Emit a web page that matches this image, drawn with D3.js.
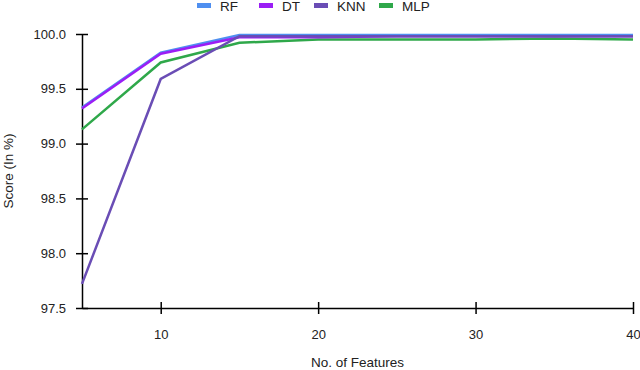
<!DOCTYPE html>
<html>
<head>
<meta charset="utf-8">
<script src="https://cdn.jsdelivr.net/npm/d3@7"></script>
<style>
  body { margin: 0; background: #fff; }
  text { font-family: "Liberation Sans", Arial, sans-serif; }
</style>
</head>
<body>
<div id="chart"></div>
<script>
// chart data
var features = [5, 10, 15, 20, 25, 30, 35, 40];
var rf  = [99.33, 99.83, 99.99, 99.99, 99.99, 99.99, 99.99, 99.99];
var dt  = [99.32, 99.82, 99.97, 99.97, 99.98, 99.98, 99.98, 99.98];
var knn = [97.72, 99.59, 99.98, 99.98, 99.98, 99.98, 99.98, 99.98];
var mlp = [99.13, 99.74, 99.92, 99.95, 99.95, 99.95, 99.96, 99.95];
var seriesNames = ["RF", "DT", "KNN", "MLP"];
var xTicks = [10, 20, 30, 40];
var yTicks = [97.5, 98.0, 98.5, 99.0, 99.5, 100.0];

var colors = d3.scaleOrdinal()
  .domain(seriesNames)
  .range(["#4f8ff0", "#9b1ef5", "#6a4db5", "#2fa84a"]);

var margin = {top: 34, right: 7, bottom: 62, left: 82},
    width = 640 - margin.left - margin.right,
    height = 370 - margin.top - margin.bottom;

var svg = d3.select("#chart").append("svg")
    .attr("width", 640)
    .attr("height", 370);

var g = svg.append("g")
    .attr("transform", "translate(" + margin.left + "," + margin.top + ")");

var x = d3.scaleLinear().domain([5, 40]).range([0, width]);
var y = d3.scaleLinear().domain([97.5, 100]).range([height, 0]);

// axes (ticks cross the axis line)
var xAxis = g.append("g")
    .attr("transform", "translate(0," + height + ")")
    .call(d3.axisBottom(x).tickValues(xTicks).tickSize(6).tickSizeOuter(0).tickPadding(16));
xAxis.selectAll(".tick line").attr("y1", -6);

var yAxis = g.append("g")
    .call(d3.axisLeft(y).tickValues(yTicks).tickFormat(d3.format(".1f")).tickSize(6).tickSizeOuter(0).tickPadding(10));
yAxis.selectAll(".tick line").attr("x1", 6);

g.selectAll(".domain, .tick line").attr("stroke", "#000").attr("stroke-width", 1.5);
g.selectAll(".tick text").attr("font-size", 13).attr("fill", "#222")
  .attr("font-family", "'Liberation Sans', Arial, sans-serif");

// lines
var allSeries = [rf, dt, knn, mlp];
var line = d3.line()
    .x(function(d, i) { return x(features[i]); })
    .y(function(d) { return y(d); });

// draw order: MLP, RF, DT, KNN
[3, 0, 1, 2].forEach(function(k) {
  g.append("path")
    .datum(allSeries[k])
    .style("fill", "none")
    .style("stroke", colors(seriesNames[k]))
    .style("stroke-width", "2.5px")
    .attr("d", line);
});

// axis labels
svg.append("text")
  .text("No. of Features")
  .attr("x", margin.left + width / 2)
  .attr("y", 367)
  .attr("text-anchor", "middle")
  .attr("font-size", 13.5)
  .attr("fill", "#222");

svg.append("text")
  .text("Score (In %)")
  .attr("transform", "translate(13," + (margin.top + height / 2) + ") rotate(-90)")
  .attr("text-anchor", "middle")
  .attr("font-size", 13.5)
  .attr("fill", "#222");

// legend
var legendX = [197, 259, 314, 379];
var legend = svg.selectAll(".legend")
  .data(seriesNames)
  .enter().append("g")
  .attr("transform", function(d, i) { return "translate(" + legendX[i] + ",0)"; });

legend.append("rect")
  .attr("x", 0).attr("y", 3)
  .attr("width", 14).attr("height", 5)
  .attr("fill", function(d) { return colors(d); });

legend.append("text")
  .text(function(d) { return d; })
  .attr("x", 23).attr("y", 11)
  .attr("font-size", 13.5)
  .attr("fill", "#222");
</script>
</body>
</html>
